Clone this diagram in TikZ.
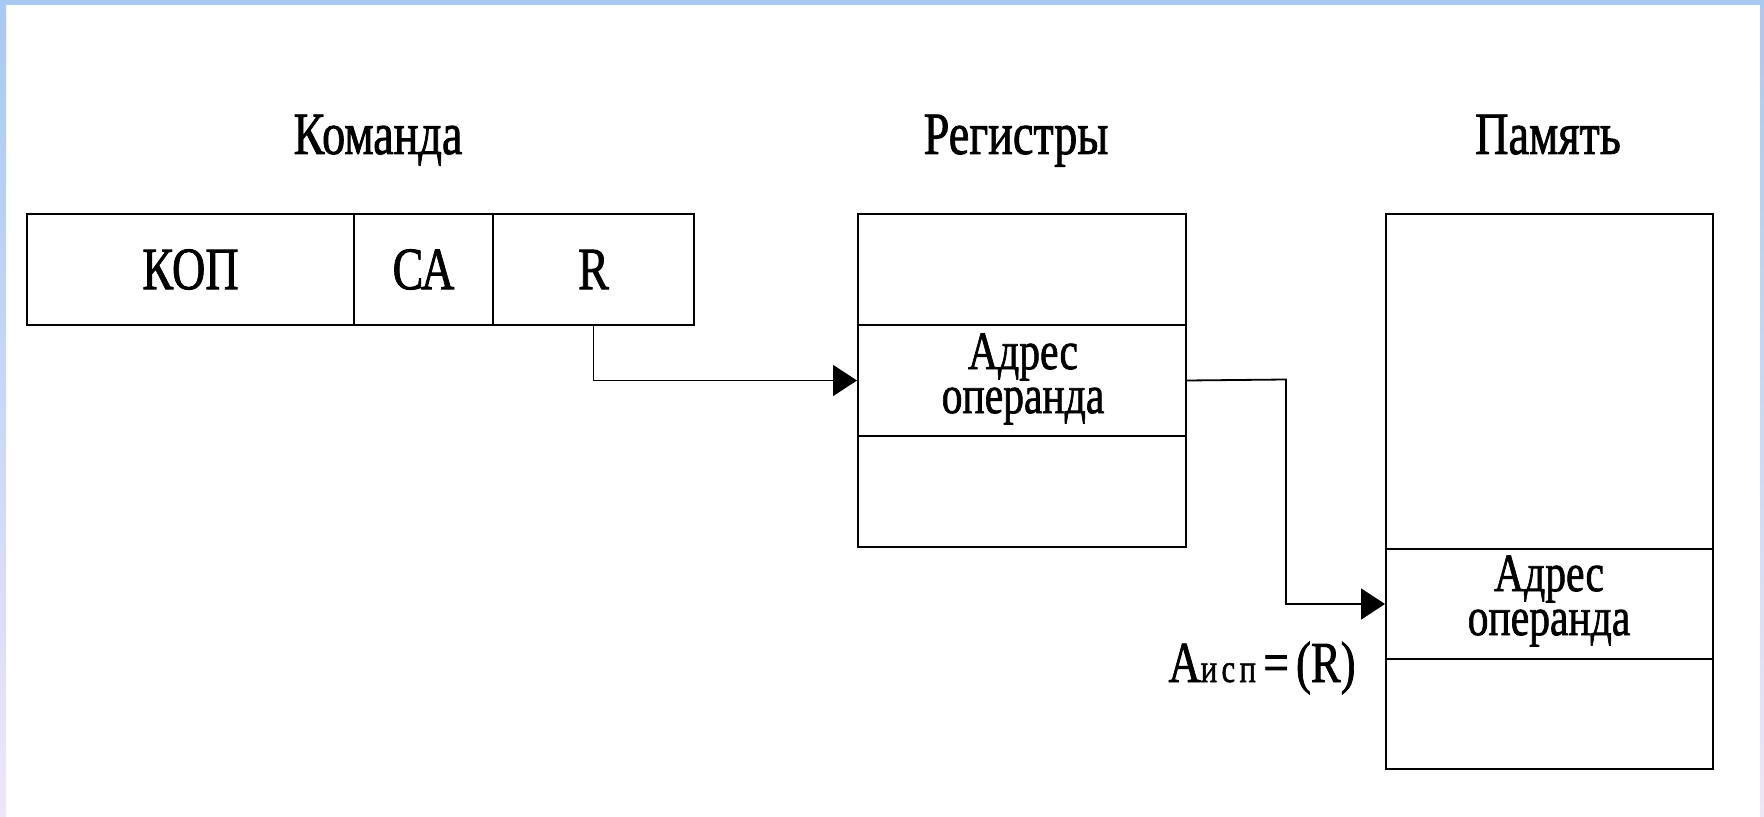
\documentclass[tikz,border=0pt]{standalone}
\usepackage{fontspec}
\usepackage{graphicx}
\setmainfont{Liberation Serif}[FakeBold=1.5]
\usetikzlibrary{arrows.meta}
\definecolor{bandblue}{HTML}{A8C9F2}
\definecolor{bandlav}{HTML}{EEE6F6}
\newcommand{\cnd}[1]{\scalebox{0.77}[1]{#1}}
\tikzset{
  cell/.style={draw, line width=1pt, inner sep=0pt, anchor=north west,
               font=\fontsize{30}{30}\selectfont},
  title/.style={anchor=base, inner sep=0pt, font=\fontsize{30}{30}\selectfont},
  addr/.style={align=center, inner sep=0pt, font=\fontsize{27}{22}\selectfont},
  conn/.style={line width=0.9pt, -{Triangle[length=12pt,width=15.5pt]}},
}
\begin{document}
\begin{tikzpicture}[x=0.5pt, y=-0.5pt]
  % background
  \useasboundingbox (0,0) rectangle (1764,817);
  \fill[white] (0,0) rectangle (1764,817);
  \shade[top color=bandblue, bottom color=bandlav] (0,0) rectangle (6,817);
  \shade[top color=bandblue, bottom color=bandlav] (1760,0) rectangle (1764,817);
  \fill[bandblue] (0,0) rectangle (1764,5);

  % titles
  \node[title] (tcmd) at (378,154) {\cnd{Команда}};
  \node[title] (treg) at (1016,154) {\cnd{Регистры}};
  \node[title] (tmem) at (1548,154) {\cnd{Память}};

  % command
  \node[cell, minimum width=163.5pt, minimum height=55.5pt] (kop) at (26,213) {\cnd{КОП}};
  \node[cell, minimum width=69.5pt, minimum height=55.5pt] (ca) at (353,213) {\cnd{СА}};
  \node[cell, minimum width=100.5pt, minimum height=55.5pt] (r) at (492,213) {\cnd{R}};

  % registers
  \node[cell, minimum width=164pt, minimum height=55.5pt] (reg1) at (857,213) {};
  \node[cell, minimum width=164pt, minimum height=55.5pt] (reg2) at (857,324) {};
  \node[cell, minimum width=164pt, minimum height=55.5pt] (reg3) at (857,435) {};
  \node[addr] (raddr) at (1023,379) {\cnd{Адрес}\\\cnd{операнда}};

  % memory
  \node[cell, minimum width=163.5pt, minimum height=167.5pt] (mem1) at (1385,213) {};
  \node[cell, minimum width=163.5pt, minimum height=55pt] (mem2) at (1385,548) {};
  \node[cell, minimum width=163.5pt, minimum height=55pt] (mem3) at (1385,658) {};
  \node[addr] (maddr) at (1549,601) {\cnd{Адрес}\\\cnd{операнда}};

  % effective address label
  \node[anchor=base east, inner sep=0pt, font=\fontsize{29}{29}\selectfont] (aisp) at (1356,682)
    {\cnd{А{\fontsize{20}{20}\selectfont\addfontfeature{LetterSpace=14}исп}\,=\,(R)}};

  % connectors
  \draw[conn] (r.south) |- (reg2.west);
  \coordinate (bend) at (1286,379.5);
  \draw[conn] (reg2.east) -- (bend) |- (mem2.west);
\end{tikzpicture}
\end{document}
